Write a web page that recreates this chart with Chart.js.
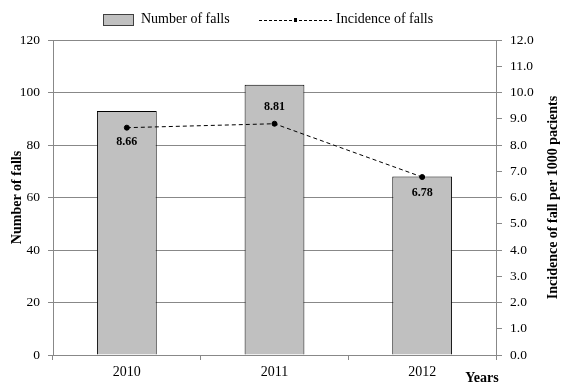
<!DOCTYPE html>
<html lang="en">
<head>
    <meta charset="UTF-8">
    <title>Falls per year</title>
    <script src="https://cdn.jsdelivr.net/npm/chart.js@4.4.1/dist/chart.umd.min.js"></script>
    <style>
        body {
            margin: 0;
            background: #fff;
        }
        #wrap {
            width: 566px;
            height: 391px;
        }
    </style>
</head>
<body>
    <div id="wrap">
        <canvas id="fallsChart" width="566" height="391"></canvas>
    </div>

    <script>
        // data
        const years = ['2010', '2011', '2012'];
        const numberOfFalls = [93, 103, 68];
        const incidence = [8.66, 8.81, 6.78];
        const leftTicks = [0, 20, 40, 60, 80, 100, 120];
        const rightTicks = [0, 1, 2, 3, 4, 5, 6, 7, 8, 9, 10, 11, 12];

        const FONT = '"Liberation Serif", "Times New Roman", serif';

        // value labels, legend and axis titles drawn on the canvas
        const extras = {
            id: 'extras',
            afterDatasetsDraw(chart, args, opts) {
                const ctx = chart.ctx;
                const meta = chart.getDatasetMeta(1);
                ctx.save();
                ctx.fillStyle = '#000';
                ctx.font = 'bold 12px ' + FONT;
                ctx.textAlign = 'center';
                ctx.textBaseline = 'middle';
                meta.data.forEach((pt, i) => {
                    const off = opts.labelOffsets[i];
                    ctx.fillText(incidence[i].toFixed(2), pt.x, pt.y + off);
                });
                ctx.restore();
            },
            afterDraw(chart) {
                const ctx = chart.ctx;
                ctx.save();

                // legend
                ctx.fillStyle = '#c0c0c0';
                ctx.fillRect(103, 14, 30, 11);
                ctx.strokeStyle = '#404040';
                ctx.lineWidth = 1;
                ctx.strokeRect(103.5, 14.5, 30, 11);
                ctx.fillStyle = '#000';
                ctx.font = '14px ' + FONT;
                ctx.textBaseline = 'middle';
                ctx.textAlign = 'left';
                ctx.fillText('Number of falls', 141, 19);

                ctx.strokeStyle = '#000';
                ctx.setLineDash([3, 2]);
                ctx.beginPath();
                ctx.moveTo(259, 20.5);
                ctx.lineTo(332, 20.5);
                ctx.stroke();
                ctx.setLineDash([]);
                ctx.fillRect(294, 18, 3, 4);
                ctx.fillText('Incidence of falls', 336, 19);

                // axis titles
                ctx.font = 'bold 14px ' + FONT;
                ctx.textAlign = 'center';
                const area = chart.chartArea;
                const midY = (area.top + area.bottom) / 2;

                ctx.save();
                ctx.translate(17, midY);
                ctx.rotate(-Math.PI / 2);
                ctx.fillText('Number of falls', 0, 0);
                ctx.restore();

                ctx.save();
                ctx.translate(553, midY);
                ctx.rotate(-Math.PI / 2);
                ctx.fillText('Incidence of fall per 1000 pacients', 0, 0);
                ctx.restore();

                ctx.fillText('Years', 482, 378);
                ctx.restore();
            }
        };

        const ctx = document.getElementById('fallsChart').getContext('2d');
        new Chart(ctx, {
            type: 'bar',
            data: {
                labels: years,
                datasets: [{
                    type: 'bar',
                    label: 'Number of falls',
                    data: numberOfFalls,
                    yAxisID: 'y',
                    backgroundColor: '#c0c0c0',
                    borderColor: '#000',
                    borderWidth: 1,
                    categoryPercentage: 1,
                    barPercentage: 0.405,
                    order: 2
                }, {
                    type: 'line',
                    label: 'Incidence of falls',
                    data: incidence,
                    yAxisID: 'y1',
                    borderColor: '#000',
                    borderWidth: 1,
                    borderDash: [4, 3],
                    backgroundColor: '#000',
                    pointRadius: 2.5,
                    pointBackgroundColor: '#000',
                    pointBorderColor: '#000',
                    tension: 0,
                    fill: false,
                    order: 1
                }]
            },
            options: {
                responsive: false,
                animation: false,
                layout: {
                    padding: { top: 40, left: 0, right: 0, bottom: 0 }
                },
                plugins: {
                    legend: { display: false },
                    tooltip: { enabled: false },
                    extras: { labelOffsets: [14, -17, 16] }
                },
                scales: {
                    x: {
                        offset: true,
                        grid: {
                            offset: true,
                            drawOnChartArea: false,
                            drawTicks: true,
                            tickLength: 5,
                            color: '#888'
                        },
                        border: { display: true, color: '#888' },
                        ticks: {
                            color: '#000',
                            padding: 4,
                            font: { family: FONT, size: 14 }
                        },
                        afterFit(scale) { scale.height = 36; }
                    },
                    y: {
                        position: 'left',
                        min: 0,
                        max: 120,
                        afterBuildTicks(scale) {
                            scale.ticks = leftTicks.map(v => ({ value: v }));
                        },
                        grid: {
                            color: '#888',
                            drawTicks: true,
                            tickLength: 5
                        },
                        border: { display: true, color: '#888' },
                        ticks: {
                            color: '#000',
                            padding: 8,
                            font: { family: FONT, size: 13.5 }
                        },
                        afterFit(scale) { scale.width = 53; }
                    },
                    y1: {
                        position: 'right',
                        min: 0,
                        max: 12,
                        afterBuildTicks(scale) {
                            scale.ticks = rightTicks.map(v => ({ value: v }));
                        },
                        grid: {
                            drawOnChartArea: false,
                            drawTicks: true,
                            tickLength: 6,
                            color: '#888'
                        },
                        border: { display: true, color: '#888' },
                        ticks: {
                            color: '#000',
                            padding: 8,
                            font: { family: FONT, size: 13.5 },
                            callback: v => Number(v).toFixed(1)
                        },
                        afterFit(scale) { scale.width = 70; }
                    }
                }
            },
            plugins: [extras]
        });
    </script>
</body>
</html>
